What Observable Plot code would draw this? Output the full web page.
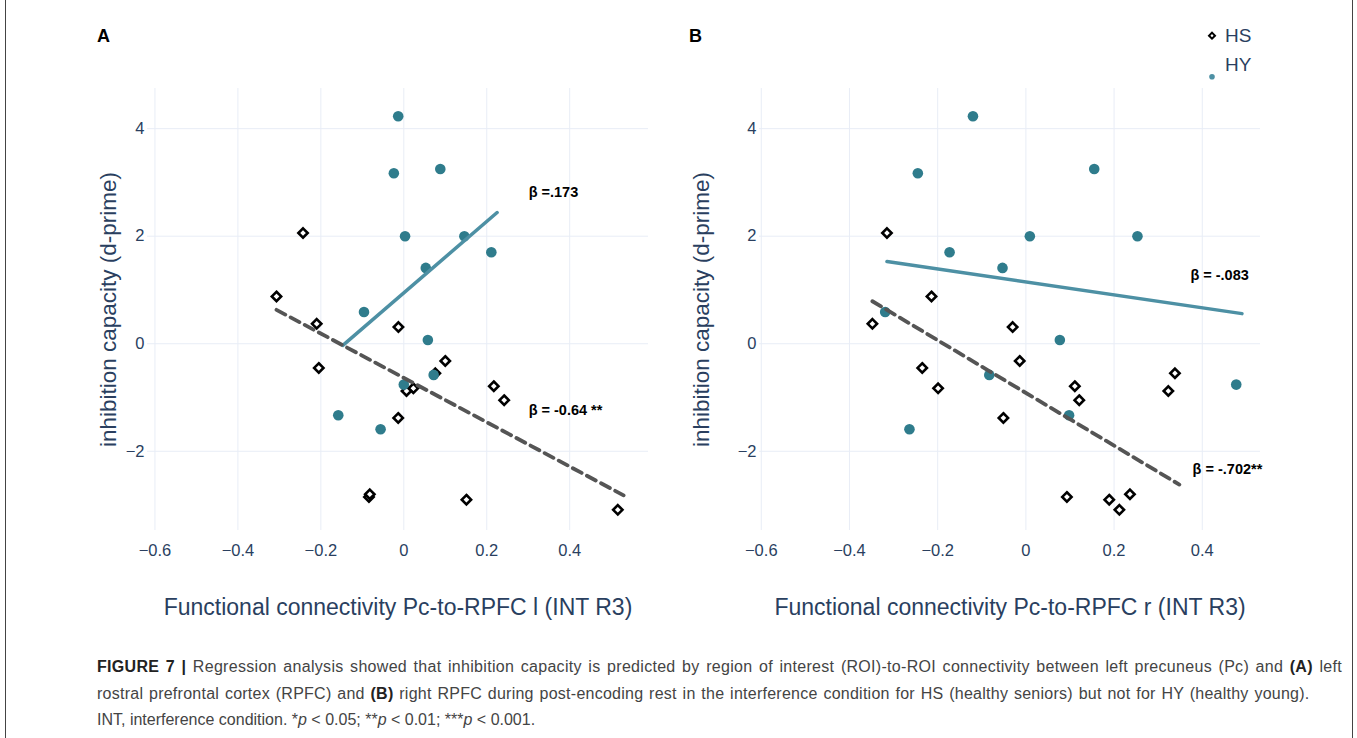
<!DOCTYPE html>
<html>
<head>
<meta charset="utf-8">
<script src="https://cdn.jsdelivr.net/npm/d3@7"></script>
<script src="https://cdn.jsdelivr.net/npm/@observablehq/plot@0.6"></script>
<style>
  body { margin: 0; background: #fff; }
  #wrap { position: relative; width: 1357px; height: 738px; overflow: hidden; background: #fff; font-family: "Liberation Sans", Arial, sans-serif; }
  .frame { position: absolute; left: 5px; top: -10px; width: 1346px; height: 800px; border-left: 1.5px solid #444; border-right: 1.5px solid #444; }
  .plot { position: absolute; top: 0; }
  .panel { position: absolute; font-weight: bold; font-size: 18px; color: #000; }
  .caption { position: absolute; left: 97px; top: 654px; font-size: 16px; line-height: 26.5px; color: #444; white-space: nowrap; }
  .caption b { color: #222; }
  #legend { position: absolute; left: 1195px; top: 15px; }
</style>
</head>
<body>
<div id="wrap">
  <div class="frame"></div>
  <div id="plotA" class="plot" style="left:0px"></div>
  <div id="plotB" class="plot" style="left:680px"></div>
  <div class="panel" style="left:97px; top:26px">A</div>
  <div class="panel" style="left:689px; top:26px">B</div>
  <svg id="legend" width="100" height="75"></svg>
  <div class="caption"><span style="letter-spacing:0.3px; word-spacing:1.8px"><b>FIGURE 7 |</b> Regression analysis showed that inhibition capacity is predicted by region of interest (ROI)-to-ROI connectivity between left precuneus (Pc) and <b>(A)</b> left</span><br><span style="letter-spacing:0.25px; word-spacing:1.1px">rostral prefrontal cortex (RPFC) and <b>(B)</b> right RPFC during post-encoding rest in the interference condition for HS (healthy seniors) but not for HY (healthy young).</span><br>INT, interference condition. *<i>p</i> &lt; 0.05; **<i>p</i> &lt; 0.01; ***<i>p</i> &lt; 0.001.</div>
</div>
<script>
// ---- data ----
const hsY  = [2.06, 0.88, 0.37, 0.31, -0.32, -0.45, -0.83, -1.38, -0.79, -1.05, -0.88, -0.55, -2.85, -2.90, -3.09, -2.80];
const hsXA = [-0.243, -0.307, -0.210, -0.013, 0.100, -0.205, 0.023, -0.0135, 0.217, 0.242, 0.0065, 0.076, -0.084, 0.151, 0.516, -0.082];
const hsXB = [-0.315, -0.214, -0.348, -0.030, -0.014, -0.235, -0.199, -0.051, 0.111, 0.121, 0.323, 0.338, 0.093, 0.189, 0.212, 0.236];

const hyY  = [4.23, 3.17, 2.00, 1.41, 0.59, 0.07, -0.58, -0.76, -1.33, -1.59, 3.25, 2.00, 1.70];
const hyXA = [-0.0135, -0.024, 0.003, 0.053, -0.096, 0.058, 0.072, 0.000, -0.158, -0.056, 0.088, 0.146, 0.211];
const hyXB = [-0.120, -0.245, 0.009, -0.053, -0.319, 0.077, -0.083, 0.477, 0.098, -0.264, 0.155, 0.253, -0.173];

// regression line end points [x0, x1], [y0, y1]
const fitA_HS_x = [-0.307, 0.530], fitA_HS_y = [0.63, -2.82];
const fitA_HY_x = [-0.147, 0.225], fitA_HY_y = [-0.03, 2.44];
const fitB_HS_x = [-0.348, 0.348], fitB_HS_y = [0.79, -2.62];
const fitB_HY_x = [-0.315, 0.490], fitB_HY_y = [1.53, 0.56];

const labelsA = ["β =.173", "β = -0.64 **"];
const labelsAx = [0.301, 0.301], labelsAy = [2.815, -1.241];
const labelsB = ["β = -.083", "β = -.702**"];
const labelsBx = [0.373, 0.378], labelsBy = [1.271, -2.339];

const xTicks = [-0.6, -0.4, -0.2, 0, 0.2, 0.4];
const yTicks = [-2, 0, 2, 4];
const yTitle = "inhibition capacity (d-prime)";
const xTitleA = "Functional connectivity Pc-to-RPFC l (INT R3)";
const xTitleB = "Functional connectivity Pc-to-RPFC r (INT R3)";
const legendNames = ["HS", "HY"];

// ---- styling ----
const TEAL = "#2f7c8c", TEAL_LINE = "#4d90a4", GRID = "#e8edf6", AXIS = "#2a3f5f";
const fmt = d => d === 0 ? "0" : (d < 0 ? "\u2212" : "") + String(Math.abs(d));

const toRows = (xs, ys) => xs.map((x, i) => ({x, y: ys[i]}));

function panel({hsX, hyX, fitHS, fitHY, labels, lx, ly, xDomain, width, marginLeft, marginRight, xTitle, yTitleDx}) {
  return Plot.plot({
    width, height: 640,
    marginLeft, marginRight, marginTop: 88, marginBottom: 110,
    style: {fontFamily: '"Liberation Sans", Arial, sans-serif', fontSize: "16.5px", color: AXIS, background: "transparent", overflow: "visible"},
    x: {domain: xDomain},
    y: {domain: [-3.474, 4.747]},
    marks: [
      Plot.gridX(xTicks, {stroke: GRID, strokeOpacity: 1, strokeWidth: 1}),
      Plot.gridY(yTicks, {stroke: GRID, strokeOpacity: 1, strokeWidth: 1}),
      Plot.axisX(xTicks, {tickSize: 0, tickPadding: 14, fontSize: 16.5, tickFormat: fmt, label: null, fill: AXIS}),
      Plot.axisY(yTicks, {tickSize: 0, tickPadding: 3, fontSize: 16.5, tickFormat: fmt, label: null, fill: AXIS}),
      Plot.text([yTitle], {frameAnchor: "left", dx: yTitleDx, rotate: -90, fontSize: 22.5, fill: AXIS, textAnchor: "middle", lineAnchor: "middle"}),
      Plot.text([xTitle], {frameAnchor: "bottom", dy: 77, fontSize: 23, fill: AXIS, textAnchor: "middle", lineAnchor: "middle"}),
      Plot.dot(toRows(hsX, hsY), {x: "x", y: "y", symbol: "diamond2", r: 4.2, stroke: "#000", strokeWidth: 2.6, fill: "#fff"}),
      Plot.dot(toRows(hyX, hyY), {x: "x", y: "y", r: 5.3, fill: TEAL, stroke: "none"}),
      Plot.line(toRows(fitHY[0], fitHY[1]), {x: "x", y: "y", stroke: TEAL_LINE, strokeWidth: 3.5}),
      Plot.line(toRows(fitHS[0], fitHS[1]), {x: "x", y: "y", stroke: "#555", strokeWidth: 3.8, strokeDasharray: "10,6"}),
      Plot.text(labels.map((t, i) => ({t, x: lx[i], y: ly[i]})), {x: "x", y: "y", text: "t", textAnchor: "start", lineAnchor: "middle", fontSize: 14.5, fontWeight: "bold", fill: "#000"})
    ]
  });
}

document.getElementById("plotA").append(panel({
  hsX: hsXA, hyX: hyXA, fitHS: [fitA_HS_x, fitA_HS_y], fitHY: [fitA_HY_x, fitA_HY_y],
  labels: labelsA, lx: labelsAx, ly: labelsAy,
  xDomain: [-0.618, 0.590], width: 680, marginLeft: 147, marginRight: 32, xTitle: xTitleA, yTitleDx: -39
}));
document.getElementById("plotB").append(panel({
  hsX: hsXB, hyX: hyXB, fitHS: [fitB_HS_x, fitB_HS_y], fitHY: [fitB_HY_x, fitB_HY_y],
  labels: labelsB, lx: labelsBx, ly: labelsBy,
  xDomain: [-0.604, 0.532], width: 677, marginLeft: 79, marginRight: 97, xTitle: xTitleB, yTitleDx: -58
}));

// legend
const lg = d3.select("#legend");
lg.append("path").attr("d", d3.symbol(d3.symbolSquare, 18)()).attr("transform", "translate(17,20.7) rotate(45)")
  .attr("fill", "#fff").attr("stroke", "#000").attr("stroke-width", 2);
lg.append("circle").attr("cx", 17).attr("cy", 61.7).attr("r", 2.8).attr("fill", TEAL_LINE);
lg.selectAll("text").data(legendNames).join("text")
  .attr("x", 30).attr("y", (d, i) => i === 0 ? 20.7 : 49)
  .attr("dy", "0.35em")
  .attr("font-size", 19).attr("fill", AXIS)
  .attr("font-family", '"Liberation Sans", Arial, sans-serif')
  .text(d => d);
</script>
</body>
</html>
